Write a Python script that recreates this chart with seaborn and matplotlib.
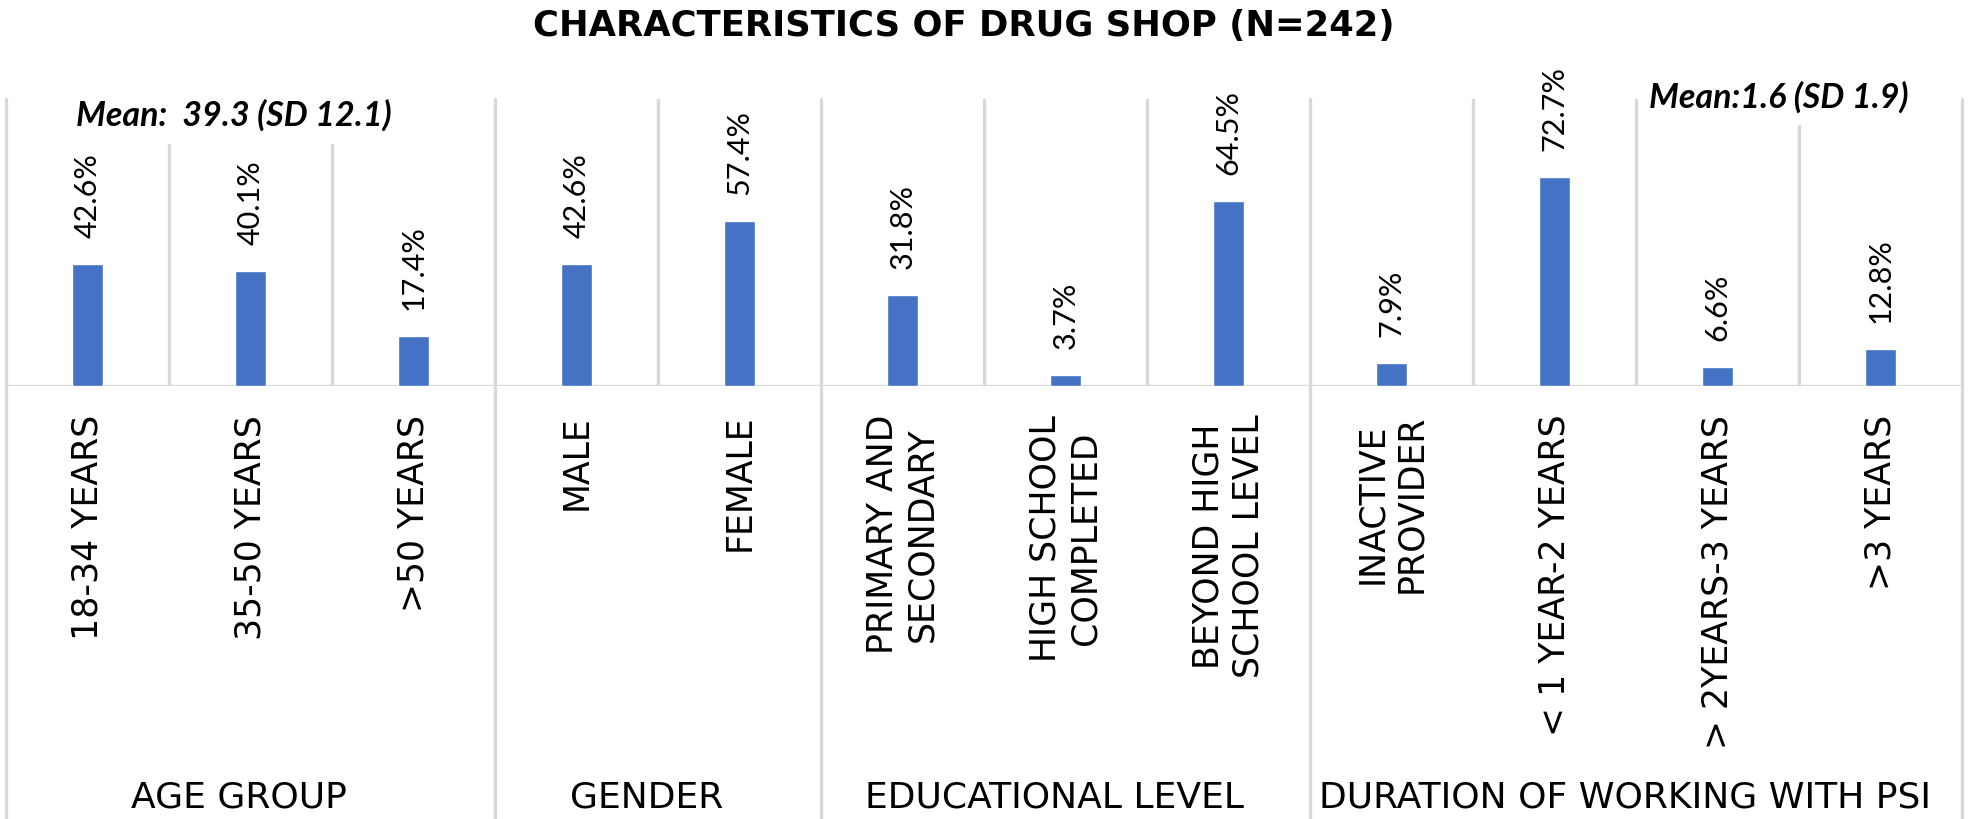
import matplotlib
matplotlib.use("Agg")
import matplotlib.pyplot as plt
import matplotlib.patches as mpatches
import seaborn as sns
import pandas as pd

# ---- data ----
categories = ["18-34 YEARS", "35-50 YEARS", ">50 YEARS",
              "MALE", "FEMALE",
              "PRIMARY AND\nSECONDARY", "HIGH SCHOOL\nCOMPLETED", "BEYOND HIGH\nSCHOOL LEVEL",
              "INACTIVE\nPROVIDER", "< 1 YEAR-2 YEARS", "> 2YEARS-3 YEARS", ">3 YEARS"]
values = [42.6, 40.1, 17.4, 42.6, 57.4, 31.8, 3.7, 64.5, 7.9, 72.7, 6.6, 12.8]
groups = ["AGE GROUP", "GENDER", "EDUCATIONAL LEVEL", "DURATION OF WORKING WITH PSI"]
group_sizes = [3, 2, 3, 4]
title = "CHARACTERISTICS OF DRUG SHOP (N=242)"
mean_notes = ["Mean:  39.3 (SD 12.1)", "Mean:1.6 (SD 1.9)"]

df = pd.DataFrame({"category": categories, "value": values})

sns.set_theme(style="white")
plt.rcParams["font.family"] = ["DejaVu Sans"]

BAR = "#4472C4"
GRID = "#D9D9D9"
TXT = "#000000"
NOTE_FONT = ["Lato", "DejaVu Sans"]

W, H = 1968, 820
fig = plt.figure(figsize=(W / 100, H / 100), dpi=100)
ax_left, ax_right = 6 / W, 1962 / W
ax_bottom = (H - 387) / H
ax_top = (H - 100) / H
ax = fig.add_axes([ax_left, ax_bottom, ax_right - ax_left, ax_top - ax_bottom])

sns.barplot(data=df, x="category", y="value", color=BAR, saturation=1,
            width=0.19, ax=ax, zorder=3)

ax.set_xlim(-0.5, len(categories) - 0.5)
ax.set_ylim(0, 100)
for s in ax.spines.values():
    s.set_visible(False)
ax.set_yticks([])
ax.set_xlabel("")
ax.set_ylabel("")

# data labels
ax.bar_label(ax.containers[0], labels=[f"{v:.1f}%" for v in values],
             rotation=90, padding=19.5, fontsize=22, color=TXT, family=NOTE_FONT)

# category tick labels
ax.set_xticks(range(len(categories)))
ax.set_xticklabels(categories, rotation=90, fontsize=25, color=TXT,
                   multialignment="center", va="top", ha="center")
ax.tick_params(axis="x", length=0, pad=20)

# gridlines: category boundaries
bounds = []
pos = -0.5
group_edges = [pos]
for n in group_sizes:
    for k in range(1, n):
        bounds.append(pos + k)
    pos += n
    group_edges.append(pos)

for b in bounds:
    ax.axvline(b, color=GRID, lw=2.4, zorder=1)
for g in group_edges:
    ax.axvline(g, ymin=-1.6, ymax=1, color=GRID, lw=2.4, zorder=1, clip_on=False)
ax.axhline(0, color=GRID, lw=2.4, zorder=2)

# group labels
pos = -0.5
for name, n in zip(groups, group_sizes):
    ax.text(pos + n / 2 - 0.07, -1.4286, name, transform=ax.get_xaxis_transform(),
            ha="center", va="center", fontsize=26, color=TXT)
    pos += n

# mean notes with white boxes
ax.add_patch(mpatches.Rectangle((-0.15, 84.3), 2.1, 16, facecolor="white",
                                edgecolor="none", zorder=2.5, clip_on=False))
ax.text(0.90, 94.6, mean_notes[0], ha="center", va="center", fontsize=24.5,
        fontweight="bold", fontstyle="italic", color=TXT, zorder=4, family=NOTE_FONT)
ax.add_patch(mpatches.Rectangle((9.6, 91.1), 1.6, 10, facecolor="white",
                                edgecolor="none", zorder=2.5, clip_on=False))
ax.text(10.375, 100.9, mean_notes[1], ha="center", va="center", fontsize=24.5,
        fontweight="bold", fontstyle="italic", color=TXT, zorder=4, family=NOTE_FONT)

fig.text(0.4895, 1 - 26 / H, title, ha="center", va="center", fontsize=25.5,
         fontweight="bold", color=TXT)

fig.savefig("out.png", dpi=100, facecolor="white")
